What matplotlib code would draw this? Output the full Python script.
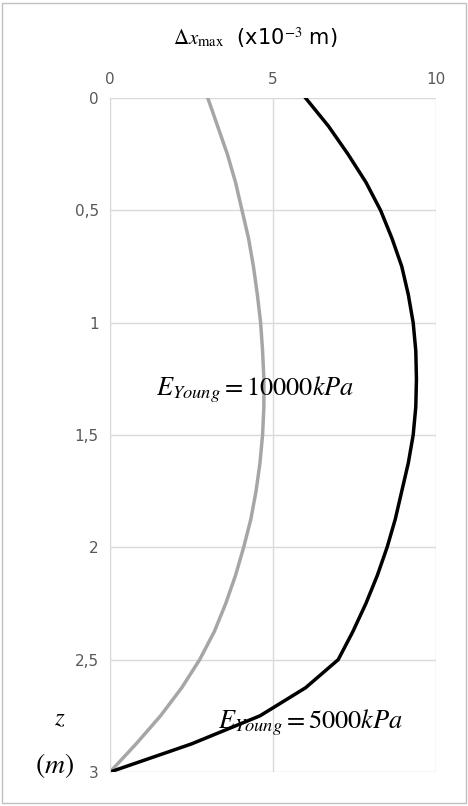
import matplotlib
matplotlib.use("Agg")
import matplotlib.pyplot as plt
from matplotlib.patches import Rectangle

plt.rcParams["mathtext.fontset"] = "stix"

z = [0, 0.125, 0.25, 0.375, 0.5, 0.625, 0.75, 0.875, 1.0, 1.125, 1.25, 1.375, 1.5,
     1.625, 1.75, 1.875, 2.0, 2.125, 2.25, 2.375, 2.5, 2.625, 2.75, 2.875, 3.0]
dx_5000 = [6.0, 6.7, 7.3, 7.85, 8.3, 8.65, 8.95, 9.15, 9.3, 9.38, 9.4, 9.38, 9.3,
           9.15, 8.95, 8.75, 8.5, 8.2, 7.85, 7.45, 7.0, 6.0, 4.6, 2.5, 0.0]
dx_10000 = [3.0, 3.3, 3.6, 3.85, 4.05, 4.25, 4.4, 4.52, 4.62, 4.68, 4.72, 4.72, 4.68,
            4.6, 4.48, 4.32, 4.1, 3.85, 3.55, 3.2, 2.75, 2.2, 1.55, 0.8, 0.0]
xticks = [0, 5, 10]
yticks = [0, 0.5, 1, 1.5, 2, 2.5, 3]
ylabels = ["0", "0,5", "1", "1,5", "2", "2,5", "3"]

fig = plt.figure(figsize=(4.68, 8.06), dpi=100)
fig.patches.append(Rectangle((0.004, 0.004), 0.992, 0.992, transform=fig.transFigure,
                             fill=False, edgecolor="#bfbfbf", linewidth=1))
ax = fig.add_axes([110/468, 1-772/806, 326/468, 674/806])
ax.plot(dx_10000, z, color="#a6a6a6", lw=2.5)
ax.plot(dx_5000, z, color="black", lw=2.5)
ax.set_xlim(0, 10)
ax.set_ylim(3, 0)
ax.set_xticks(xticks)
ax.set_yticks(yticks)
ax.set_yticklabels(ylabels)
ax.xaxis.tick_top()
ax.tick_params(length=0, labelsize=11, colors="#595959", pad=8)
ax.grid(True, color="#d9d9d9", lw=1)
for s in ax.spines.values():
    s.set_visible(False)
ax.spines["left"].set_visible(True)
ax.spines["left"].set_color("#d9d9d9")
fig.text(0.545, 0.945, r"$\Delta x_{\max}$  (x10$^{-3}$ m)", fontsize=15, ha="center", color="black")
ax.text(1.4, 1.3, r"$E_{Young}=10000kPa$", fontsize=19, va="center")
ax.text(3.3, 2.78, r"$E_{Young}=5000kPa$", fontsize=19, va="center")
fig.text(60/468, 1-718/806, r"$z$", fontsize=18, ha="center", va="center")
fig.text(55/468, 1-765/806, r"$\left(m\right)$", fontsize=20, ha="center", va="center")
fig.savefig("out.png", dpi=100)
